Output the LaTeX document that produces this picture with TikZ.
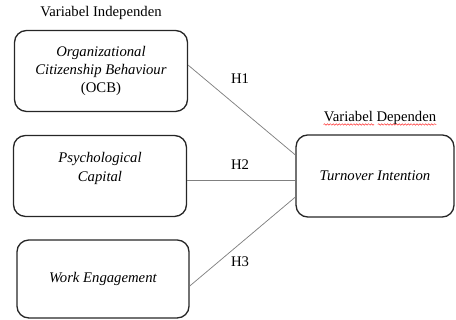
\documentclass[tikz,border=0pt]{standalone}
\usepackage{fontspec}
\setmainfont{Liberation Serif}
\usetikzlibrary{decorations.pathmorphing}

\tikzset{
  varbox/.style={draw=black!85, line width=0.9pt, rounded corners=8pt, align=center},
  link/.style={draw=black!50, line width=0.5pt},
  spell/.style={draw=red!80, line width=0.35pt, decorate, decoration={snake, amplitude=0.5pt, segment length=2pt}},
}

\begin{document}
\begin{tikzpicture}[x=0.68pt, y=-0.68pt, font=\fontsize{10}{12.4}\selectfont]
    \useasboundingbox (0,0) rectangle (456,320) ;
    \node[inner sep=0] at (101,13) (vind) {Variabel Independen} ;
    \node[inner sep=0] at (380,118) (vdep) {Variabel Dependen} ;
    \draw[spell] ([yshift=-2pt]vdep.base west) -- ++(34.4pt,0) ;
    \draw[spell] ([xshift=36.9pt,yshift=-2pt]vdep.base west) -- ([yshift=-2pt]vdep.base east) ;
    % independent variables
    \node[varbox, minimum width=117.6pt, minimum height=55pt] at (101,71) (ocb) {\textit{Organizational}\\ \textit{Citizenship Behaviour}\\ (OCB)} ;
    \node[varbox, minimum width=117.6pt, minimum height=55pt] at (100,176) (psy) {\textit{Psychological}\\ \textit{Capital}\\ \mbox{}} ;
    \node[varbox, minimum width=117pt, minimum height=53pt] at (103,279) (work) {\textit{Work Engagement}} ;
    % dependent variable
    \node[varbox, minimum width=107.4pt, minimum height=55.8pt] at (375,176) (turn) {\textit{Turnover Intention}} ;
    \draw[link] ([yshift=4pt]ocb.east) -- ([yshift=14.3pt]turn.west) ;
    \draw[link] ([yshift=-2.7pt]psy.east) -- ([yshift=-2.7pt]turn.west) ;
    \draw[link] ([yshift=-4.8pt]work.east) -- ([yshift=-14.3pt]turn.west) ;
    \node at (240,79) (h1) {H1} ;
    \node at (240,165) (h2) {H2} ;
    \node at (240,262) (h3) {H3} ;
  \end{tikzpicture}
\end{document}
